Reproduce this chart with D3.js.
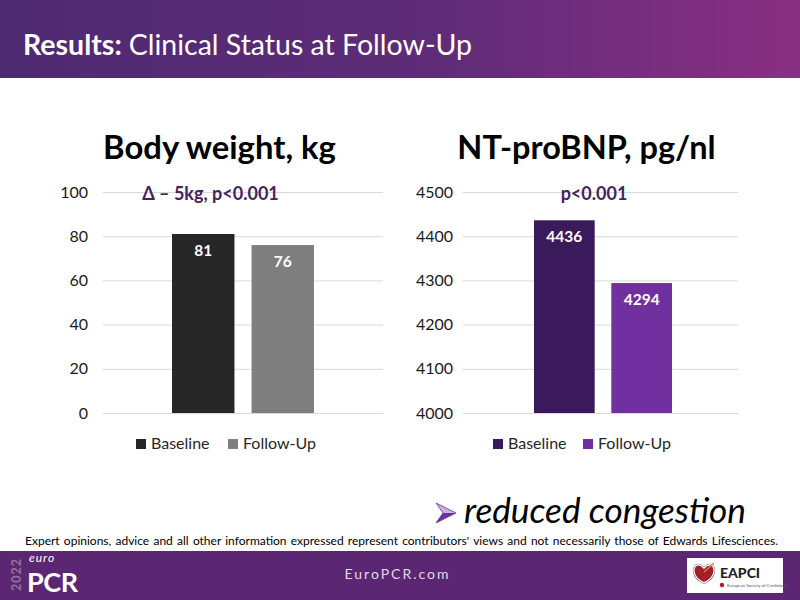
<!DOCTYPE html>
<html><head><meta charset="utf-8">
<script src="https://cdn.jsdelivr.net/npm/d3@7"></script>
<style>html,body{margin:0;padding:0;background:#fff}svg{display:block}text{font-family:Lato,"Noto Sans",sans-serif}</style>
</head><body><svg id="c" width="800" height="600"></svg>
<script>
const seriesNames = ["Baseline", "Follow-Up"];
const weightValues = [81, 76];
const bnpValues = [4436, 4294];
const weightTicks = [0, 20, 40, 60, 80, 100];
const bnpTicks = [4000, 4100, 4200, 4300, 4400, 4500];
const weightColors = ["#262626", "#7f7f7f"];
const bnpColors = ["#3b1a5c", "#7030a0"];

const svg = d3.select("#c");
const defs = svg.append("defs");
const g = defs.append("linearGradient").attr("id", "hdr");
g.append("stop").attr("offset", "0").attr("stop-color", "#4d2a72");
g.append("stop").attr("offset", "0.55").attr("stop-color", "#5f2c78");
g.append("stop").attr("offset", "1").attr("stop-color", "#8a2f82");
const ag = defs.append("linearGradient").attr("id", "arr").attr("x1", 0).attr("y1", 0).attr("x2", 0).attr("y2", 1);
ag.append("stop").attr("offset", "0.5").attr("stop-color", "#c9b3da");
ag.append("stop").attr("offset", "0.5").attr("stop-color", "#7030a0");
svg.append("rect").attr("width", 800).attr("height", 78).attr("fill", "url(#hdr)");
const t = svg.append("text").attr("x", 23).attr("y", 55).attr("font-size", 28.5).attr("fill", "#fff");
t.append("tspan").attr("font-weight", 700).text("Results: ");
t.append("tspan").attr("font-weight", 400).text("Clinical Status at Follow-Up");

function chart(o) {
  const y = d3.scaleLinear().domain(o.domain).range([413, 192]);
  const x = d3.scaleBand().domain(seriesNames).range(o.bars).paddingInner(0.215);
  const root = svg.append("g");
  const axis = root.append("g").attr("transform", `translate(${o.grid[0]},0)`)
    .call(d3.axisLeft(y).tickValues(o.ticks).tickSize(0).tickPadding(o.pad).tickFormat(d3.format("d")));
  axis.select(".domain").remove();
  axis.selectAll("text").attr("font-size", 16).attr("fill", "#1a1a1a").style("font-family", "Lato");
  axis.selectAll("line").attr("x2", o.grid[1] - o.grid[0]).attr("stroke", "#d9d9d9").attr("stroke-width", 1);
  root.selectAll("rect.bar").data(o.values).join("rect").attr("class", "bar")
    .attr("x", (d, i) => x(seriesNames[i])).attr("width", x.bandwidth())
    .attr("y", d => y(d)).attr("height", d => y(o.domain[0]) - y(d))
    .attr("fill", (d, i) => o.colors[i]);
  root.selectAll("text.val").data(o.values).join("text").attr("class", "val")
    .attr("x", (d, i) => x(seriesNames[i]) + x.bandwidth() / 2)
    .attr("y", d => y(d) + 22).attr("text-anchor", "middle")
    .attr("font-size", 15.5).attr("font-weight", 700).attr("fill", "#fff").text(d => d);
  root.append("text").attr("x", o.titleX).attr("y", 159).attr("text-anchor", "middle")
    .attr("font-size", o.titleSize).attr("font-weight", 700).attr("fill", "#000").text(o.title);
  root.append("text").attr("x", o.noteX).attr("y", 200).attr("text-anchor", "middle")
    .attr("font-size", 18).attr("font-weight", 700).attr("fill", "#44235f").text(o.note);
  const lg = root.selectAll("g.lg").data(seriesNames).join("g").attr("class", "lg")
    .attr("transform", (d, i) => `translate(${o.legend[i]},0)`);
  lg.append("rect").attr("y", 439).attr("width", 10).attr("height", 10).attr("fill", (d, i) => o.colors[i]);
  lg.append("text").attr("x", 15).attr("y", 449).attr("font-size", 16).attr("fill", "#262626").text(d => d);
}
chart({domain: [0, 100], ticks: weightTicks, values: weightValues, colors: weightColors,
  bars: [172, 314], grid: [103, 383], pad: 15, title: "Body weight, kg", titleX: 219.5, titleSize: 32.8,
  note: "Δ – 5kg, p<0.001", noteX: 210.5, legend: [136, 228]});
chart({domain: [4000, 4500], ticks: bnpTicks, values: bnpValues, colors: bnpColors,
  bars: [534, 672], grid: [463, 738], pad: 10, title: "NT-proBNP, pg/nl", titleX: 586.5, titleSize: 32.5,
  note: "p<0.001", noteX: 594, legend: [493, 583]});

svg.append("path").attr("d", "M436 503 L456 513 L436 523 L443 513 Z").attr("fill", "url(#arr)").attr("stroke", "#7030a0").attr("stroke-width", 0.8);
svg.append("text").attr("x", 464).attr("y", 523).attr("font-size", 35.2).attr("font-style", "italic").attr("fill", "#000").text("reduced congestion");
const note = svg.append("text").attr("x", 25).attr("y", 545).attr("font-size", 12).attr("fill", "#000")
  .text("Expert opinions, advice and all other information expressed represent contributors' views and not necessarily those of Edwards Lifesciences.");
const noteWords = note.text().split(" ").length - 1;
note.attr("word-spacing", (753 - note.node().getComputedTextLength()) / noteWords);

svg.append("rect").attr("y", 551).attr("width", 800).attr("height", 49).attr("fill", "#5b2773");
svg.append("text").attr("transform", "translate(21,591) rotate(-90)").attr("font-size", 12.5).attr("font-weight", 900).attr("letter-spacing", 1).attr("fill", "#8d6f9c").text("2022");
svg.append("text").attr("x", 29).attr("y", 562).attr("font-size", 12).attr("font-style", "italic").attr("letter-spacing", 1).attr("fill", "#fff").text("euro");
svg.append("text").attr("x", 27).attr("y", 592).attr("font-size", 27).attr("font-weight", 700).attr("letter-spacing", -0.4).attr("fill", "#fff").text("PCR");
svg.append("text").attr("x", 397.5).attr("y", 579).attr("text-anchor", "middle").attr("font-size", 14).attr("letter-spacing", 2).attr("fill", "#e3d8ea").text("EuroPCR.com");

svg.append("rect").attr("x", 687).attr("y", 558).attr("width", 96).attr("height", 35).attr("fill", "#fff");
const heart = "M704 568 C699 562 693 565 694 572 C695 578 700 581 704 583 C708 581 713 578 714 572 C715 565 709 562 704 568 Z";
svg.append("path").attr("d", heart).attr("fill", "#fff").attr("stroke", "#4a2a5e").attr("stroke-width", 2);
svg.append("path").attr("d", heart).attr("fill", "#a3202a").attr("stroke", "#fff").attr("stroke-width", 1.4);
svg.append("line").attr("x1", 704).attr("y1", 572).attr("x2", 714).attr("y2", 563).attr("stroke", "#c9952e").attr("stroke-width", 1.2);
svg.append("text").attr("x", 720).attr("y", 578).attr("font-size", 14).attr("font-weight", 900).attr("fill", "#222").text("EAPCI");
svg.append("text").attr("x", 727).attr("y", 586.5).attr("font-size", 4.4).attr("fill", "#555").text("European Society of Cardiology");
svg.append("circle").attr("cx", 722).attr("cy", 585).attr("r", 2.2).attr("fill", "#a3202a");
</script></body></html>
